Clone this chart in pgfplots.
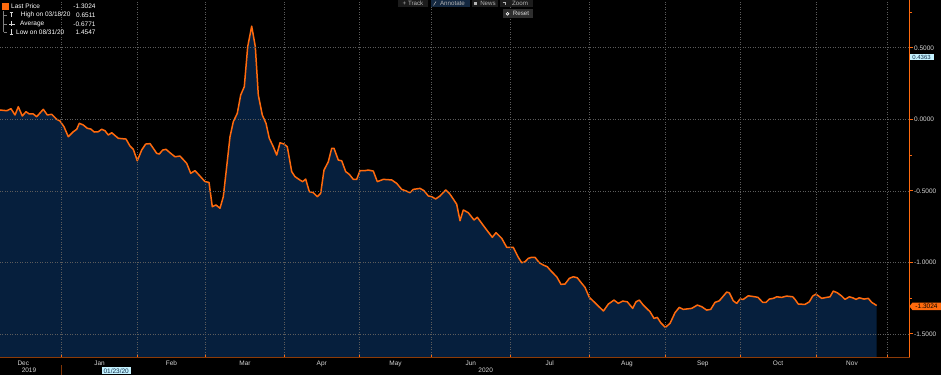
\documentclass[border=0pt]{standalone}
\usepackage{pgfplots}
\pgfplotsset{compat=1.18}
\usepackage{pgfplotstable}
\usepackage{fontspec}
\setmainfont{Liberation Sans}
\definecolor{bbnavy}{HTML}{061F3D}
\definecolor{bborange}{HTML}{FF6A0D}
\definecolor{bbgrid}{HTML}{5C5C5C}
\definecolor{bbtext}{HTML}{D6D6D6}
\definecolor{bbcyan}{HTML}{C4F2FF}
\definecolor{bbdark}{HTML}{0E2A47}
\definecolor{bbbtn}{HTML}{1C1C1C}
\definecolor{bbbtnblue}{HTML}{142840}
\definecolor{bbbtntext}{HTML}{B4B4B4}
\newcommand{\sm}{\fontsize{6.5}{7}\selectfont}
\newcommand{\tb}{\fontsize{6.2}{6.5}\selectfont}

\pgfplotstableread{
x v
0 0.065
6.7 0.060
11 0.074
15 0.030
18.3 0.088
22.3 0.023
26 0.053
29.3 0.037
33.3 0.037
36.7 0.018
43.3 0.070
47.3 0.030
51.7 0.035
56.7 0.000
60 -0.012
64 -0.052
68.3 -0.122
73.3 -0.087
76.7 -0.070
79.3 -0.028
83.3 -0.040
87.3 -0.063
90.7 -0.068
94.3 -0.089
98.3 -0.087
101.7 -0.070
105 -0.080
108.3 -0.110
111.7 -0.094
118.3 -0.133
126 -0.138
130 -0.187
133.3 -0.210
137.3 -0.290
141.7 -0.215
145.7 -0.173
150 -0.170
153.3 -0.203
156.7 -0.238
159.3 -0.243
162.7 -0.215
166 -0.210
170 -0.234
175 -0.262
180 -0.257
186.7 -0.308
190.7 -0.378
195 -0.359
200 -0.397
205 -0.436
209 -0.441
212.3 -0.611
216 -0.599
220 -0.622
223.3 -0.541
226.7 -0.331
230 -0.122
233.3 -0.017
237.3 0.042
240.7 0.170
244.3 0.228
247.7 0.508
251.7 0.651
255.3 0.508
258.3 0.170
262.3 0.030
266 -0.028
269.3 -0.133
273.3 -0.192
276.7 -0.250
280 -0.164
284 -0.173
287.3 -0.192
291.7 -0.366
295 -0.401
300 -0.425
302.7 -0.436
305.7 -0.418
309.3 -0.506
313.3 -0.513
317.3 -0.541
320.7 -0.517
324 -0.355
328.3 -0.297
331.7 -0.203
334 -0.203
338.3 -0.285
341.7 -0.290
345.7 -0.366
349.3 -0.385
353.3 -0.420
356.7 -0.420
360 -0.359
365 -0.359
368.3 -0.355
373.3 -0.362
377.3 -0.436
383.3 -0.420
391.7 -0.424
396.7 -0.448
401.7 -0.490
406 -0.501
410 -0.513
413.3 -0.490
420 -0.483
424 -0.499
428.3 -0.536
431.7 -0.541
435.7 -0.557
440 -0.536
445.7 -0.494
449.3 -0.517
453.5 -0.560
456.7 -0.594
460 -0.709
463.3 -0.634
468.3 -0.653
474 -0.704
477.3 -0.685
481.7 -0.727
486.7 -0.774
492.3 -0.825
496 -0.793
501.7 -0.832
506.7 -0.895
513.3 -0.895
518.3 -0.965
521.7 -1.003
525 -0.996
528.3 -0.972
531.7 -0.965
535 -0.965
539.3 -1.003
543.3 -1.019
547.3 -1.031
551.7 -1.066
556.7 -1.101
561 -1.154
565 -1.152
569.3 -1.112
573.3 -1.101
577.3 -1.108
581.7 -1.147
585 -1.175
589.3 -1.245
594 -1.276
598.3 -1.306
603.5 -1.340
608.3 -1.292
614 -1.264
618.3 -1.287
622.7 -1.271
627.3 -1.276
632.7 -1.322
636 -1.276
639.3 -1.264
643.3 -1.299
650 -1.345
654 -1.392
657.3 -1.385
660.7 -1.422
665.3 -1.455
670 -1.427
675 -1.352
679.3 -1.315
683.3 -1.329
691.7 -1.322
697.3 -1.299
701.7 -1.310
706.7 -1.334
710.7 -1.329
715 -1.280
719.3 -1.269
722.7 -1.241
726.7 -1.208
729.3 -1.213
733.3 -1.269
736.7 -1.287
740 -1.257
743.3 -1.259
748.3 -1.234
755 -1.241
758 -1.245
762.7 -1.280
766 -1.280
769.3 -1.257
773.3 -1.252
776.7 -1.241
781.7 -1.245
786.7 -1.236
792.7 -1.241
795 -1.259
798.3 -1.292
805 -1.294
809.3 -1.276
812.7 -1.236
816 -1.222
821.7 -1.252
826.7 -1.245
830 -1.241
833.3 -1.201
837.3 -1.213
841.7 -1.236
845 -1.259
849.3 -1.241
852.7 -1.248
856 -1.259
859.3 -1.248
864 -1.257
868.3 -1.252
871.7 -1.280
876.7 -1.302
}\series

\begin{document}
\begin{tikzpicture}
\useasboundingbox (0,0) rectangle (941pt,375pt);
\fill[black] (0,0) rectangle (941pt,375pt);
\begin{axis}[
  at={(0pt,17.7pt)}, anchor=south west,
  scale only axis, width=909.5pt, height=357.3pt,
  xmin=0, xmax=909.5, ymin=-1.664, ymax=0.834,
  axis x line*=bottom, axis y line*=right,
  axis line style={-},
  x axis line style={draw=bborange!55!black, line width=0.8pt},
  y axis line style={draw=bborange, line width=0.8pt},
  xtick={23.3,99.5,171.5,245,321.8,395.5,470.8,549.7,627,702.8,778,852},
  xticklabels={Dec,Jan,Feb,Mar,Apr,May,Jun,Jul,Aug,Sep,Oct,Nov},
  minor xtick={61.7,137.3,205.7,284.3,359.3,431.7,510,589.3,665.3,740.3,816.7,887.3},
  major x tick style={draw=none},
  minor x tick style={draw=bborange, line width=0.8pt},
  xtick align=inside,
  xminorgrids=true,
  ytick={-1.5,-1,-0.5,0,0.5},
  yticklabels={-1.5000,-1.0000,-0.5000,0.0000,0.5000},
  minor ytick={0.75,-0.25,-1.25},
  ytick align=outside,
  major y tick style={draw=bborange, line width=0.8pt},
  minor y tick style={draw=bborange, line width=0.8pt},
  ymajorgrids=true,
  major tick length=3.5pt, minor tick length=2.5pt,
  grid style={draw=bbgrid, line width=0.6pt, dash pattern=on 0.7pt off 1.8pt},
  minor grid style={draw=bbgrid, line width=0.6pt, dash pattern=on 0.7pt off 1.8pt},
  tick label style={font=\sm, text=bbtext},
  yticklabel style={anchor=west, inner xsep=1pt},
  xticklabel style={anchor=north},
  axis on top,
]
\addplot[fill=bbnavy, draw=none, forget plot] table[x=x,y=v]{\series}
  -- (axis cs:876.7,-1.664) -- (axis cs:0,-1.664) -- cycle;
\addplot[bborange, line width=1.5pt, line join=round] table[x=x,y=v]{\series};
\end{axis}

\begin{scope}[x=1pt,y=-1pt,shift={(0pt,375pt)}, every node/.style={inner sep=0pt, font=\sm}]
% legend
\fill[bborange] (2,3.3) rectangle (8.5,9.7);
\draw[gray, line width=0.5pt] (3.5,11) -- (3.5,32) (3.5,15) -- (6.5,15) (3.5,24) -- (6.5,24) (3.5,32) -- (6.5,32);
\draw[bbtext, line width=0.5pt] (9.5,12.5) -- (12.5,12.5) (11,12.5) -- (11,17.5);
\draw[bbtext, line width=0.5pt] (9,24) -- (15,24) (11.5,21.5) -- (11.5,26.5);
\draw[bbtext, line width=0.5pt] (11,29.5) -- (11,34.5) (9.5,34.5) -- (12.5,34.5);
\node[anchor=west, text=white] at (11,6.5) {Last Price};
\node[anchor=east, text=white] at (95.7,6.5) {-1.3024};
\node[anchor=west, text=white] at (20.7,15) {High on 03/18/20};
\node[anchor=east, text=white] at (95.7,15) {0.6511};
\node[anchor=west, text=white] at (20,24) {Average};
\node[anchor=east, text=white] at (95.7,24) {-0.6771};
\node[anchor=west, text=white] at (16,32.5) {Low on 08/31/20};
\node[anchor=east, text=white] at (95.7,32.5) {1.4547};
% toolbar
\fill[bbbtn] (398,0) rectangle (428,6.7);
\node[text=bbbtntext, font=\tb] at (413,3.4) {+ Track};
\fill[bbbtnblue] (430.7,0) rectangle (470,6.7);
\draw[bbbtntext, line width=0.5pt] (433.5,5.5) -- (436,1.5);
\node[text=bbbtntext, font=\tb] at (452.5,3.4) {Annotate};
\fill[bbbtn] (471.7,0) rectangle (498,6.7);
\fill[bbbtntext] (474,1.8) rectangle (477,5);
\node[text=bbbtntext, font=\tb] at (488,3.4) {News};
\fill[bbbtn] (500,0) rectangle (533,6.7);
\draw[bbbtntext, line width=0.5pt] (502.5,2.5) -- (505,2.5) -- (505,5.5);
\node[text=bbbtntext, font=\tb] at (520,3.4) {Zoom};
\fill[black!82!white] (502.7,9.3) rectangle (532.7,18.3);
\fill[white] (507.5,13.8) circle (1.8);
\fill[black!82!white] (507.5,13.8) circle (0.7);
\node[text=bbtext, font=\tb] at (521,13.8) {Reset};
% right-side value boxes
\fill[bbcyan] (909.5,54.3) rectangle (933.5,60.3);
\node[text=bbdark, font=\fontsize{6}{6}\selectfont] at (921.5,57.4) {0.4363};
\fill[bborange] (909.5,306.3) -- (912.5,302.5) -- (941,302.5) -- (941,310.2) -- (912.5,310.2) -- cycle;
\node[text=black] at (926.5,306.4) {-1.3024};
% bottom year row
\node[text=bbtext] at (29,370.3) {2019};
\fill[bbcyan] (101.7,367) rectangle (130.7,374.3);
\node[text=bbdark] at (116.2,370.7) {01/23/20};
\node[text=bbtext] at (485.7,370.3) {2020};
\draw[bborange!50!black, line width=0.6pt] (61.7,365) -- (61.7,375);
\end{scope}
\end{tikzpicture}
\end{document}
